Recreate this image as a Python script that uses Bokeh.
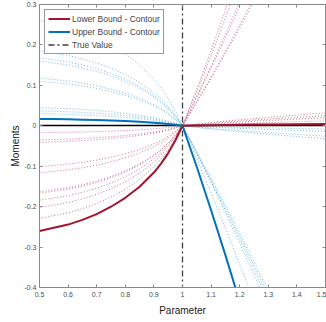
from bokeh.plotting import figure
from bokeh.models import LinearAxis, FixedTicker, Range1d
from bokeh.embed import file_html
from bokeh.resources import INLINE

nan = float("nan")

# ---------------- data ----------------
X_LEFT = [0.5, 0.55, 0.6, 0.65, 0.7, 0.75, 0.8, 0.85, 0.9, 0.925, 0.95, 0.975, 1.0]
X_RIGHT = [1.0, 1.05, 1.1, 1.15, 1.2, 1.25, 1.3, 1.4, 1.5]

LOWER_LEFT = [-0.26, -0.2522, -0.2444, -0.2327, -0.2184, -0.2002, -0.1781, -0.1508,
              -0.1157, -0.0936, -0.0676, -0.0364, 0.0]
LOWER_RIGHT = [0.0, 0.0007, 0.0013, 0.0019, 0.0024, 0.0029, 0.0033, 0.0039, 0.0045]

UPPER_LEFT = [0.017, 0.0165, 0.016, 0.0152, 0.0143, 0.0131, 0.0116, 0.0099,
              0.0076, 0.0061, 0.0044, 0.0024, 0.0]
UPPER_RIGHT = [0.0, -0.102, -0.209, -0.32, -0.435, nan, nan, nan, nan]

LOWER_DOTTED_LEFT = [
    [-0.017, -0.0165, -0.016, -0.0152, -0.0143, -0.0131, -0.0116, -0.0099, -0.0076, -0.0061, -0.0044, -0.0024, 0.0],
    [-0.035, -0.034, -0.0329, -0.0313, -0.0294, -0.027, -0.024, -0.0203, -0.0156, -0.0126, -0.0091, -0.0049, 0.0],
    [-0.041, -0.0398, -0.0385, -0.0367, -0.0344, -0.0316, -0.0281, -0.0238, -0.0182, -0.0148, -0.0107, -0.0057, 0.0],
    [-0.101, -0.098, -0.0949, -0.0904, -0.0848, -0.0778, -0.0692, -0.0586, -0.0449, -0.0364, -0.0263, -0.0141, 0.0],
    [-0.116, -0.1125, -0.109, -0.1038, -0.0974, -0.0893, -0.0795, -0.0673, -0.0516, -0.0418, -0.0302, -0.0162, 0.0],
    [-0.163, -0.1581, -0.1532, -0.1459, -0.1369, -0.1255, -0.1117, -0.0945, -0.0725, -0.0587, -0.0424, -0.0228, 0.0],
    [-0.167, -0.162, -0.157, -0.1495, -0.1403, -0.1286, -0.1144, -0.0969, -0.0743, -0.0601, -0.0434, -0.0234, 0.0],
    [-0.184, -0.1785, -0.173, -0.1647, -0.1546, -0.1417, -0.126, -0.1067, -0.0819, -0.0662, -0.0478, -0.0258, 0.0],
    [-0.202, -0.1959, -0.1899, -0.1808, -0.1697, -0.1555, -0.1384, -0.1172, -0.0899, -0.0727, -0.0525, -0.0283, 0.0],
    [-0.229, -0.2221, -0.2153, -0.205, -0.1924, -0.1763, -0.1569, -0.1328, -0.1019, -0.0824, -0.0595, -0.0321, 0.0],
]
LOWER_DOTTED_RIGHT = [
    [0.0, 0.091, 0.186, 0.286, 0.389, nan, nan, nan, nan],
    [0.0, 0.085, 0.173, 0.266, 0.362, nan, nan, nan, nan],
    [0.0, 0.073, 0.148, 0.226, 0.307, 0.39, nan, nan, nan],
    [0.0, 0.070, 0.143, 0.218, 0.295, 0.376, nan, nan, nan],
    [0.0, 0.059, 0.121, 0.184, 0.249, 0.316, 0.385, nan, nan],
    [0.0, 0.058, 0.117, 0.179, 0.242, 0.307, 0.373, nan, nan],
    [0.0, 0.004, 0.008, 0.0115, 0.0147, 0.0179, 0.0208, 0.0266, 0.032],
    [0.0, 0.0033, 0.0063, 0.009, 0.0115, 0.014, 0.0163, 0.0208, 0.025],
    [0.0, 0.0026, 0.005, 0.0072, 0.0092, 0.0112, 0.013, 0.0166, 0.02],
    [0.0, 0.0016, 0.003, 0.0043, 0.0055, 0.0067, 0.0078, 0.01, 0.012],
]

UPPER_DOTTED_LEFT = [
    [0.03, 0.0291, 0.0282, 0.0269, 0.0252, 0.0231, 0.0206, 0.0174, 0.0134, 0.0108, 0.0078, 0.0042, 0.0],
    [0.037, 0.0359, 0.0348, 0.0331, 0.0311, 0.0285, 0.0253, 0.0215, 0.0165, 0.0133, 0.0096, 0.0052, 0.0],
    [0.045, 0.0437, 0.0423, 0.0403, 0.0378, 0.0347, 0.0308, 0.0261, 0.02, 0.0162, 0.0117, 0.0063, 0.0],
    [0.11, 0.1067, 0.1034, 0.0985, 0.0924, 0.0847, 0.0754, 0.0638, 0.049, 0.0396, 0.0286, 0.0154, 0.0],
    [0.118, 0.1145, 0.1109, 0.1056, 0.0991, 0.0909, 0.0808, 0.0684, 0.0525, 0.0425, 0.0307, 0.0165, 0.0],
    [0.16, 0.1552, 0.1504, 0.1432, 0.1344, 0.1232, 0.1096, 0.0928, 0.0712, 0.0576, 0.0416, 0.0224, 0.0],
    [0.168, 0.163, 0.1579, 0.1504, 0.1411, 0.1294, 0.1151, 0.0974, 0.0748, 0.0605, 0.0437, 0.0235, 0.0],
    [0.185, 0.1795, 0.1739, 0.1656, 0.1554, 0.1425, 0.1267, 0.1073, 0.0823, 0.0666, 0.0481, 0.0259, 0.0],
    [0.26, 0.2522, 0.2444, 0.2327, 0.2184, 0.2002, 0.1781, 0.1508, 0.1157, 0.0936, 0.0676, 0.0364, 0.0],
]
UPPER_DOTTED_RIGHT = [
    [0.0, -0.082, -0.166, -0.253, -0.343, -0.435, nan, nan, nan],
    [0.0, -0.07, -0.141, -0.215, -0.291, -0.369, -0.448, nan, nan],
    [0.0, -0.068, -0.138, -0.209, -0.282, -0.357, -0.434, nan, nan],
    [0.0, -0.066, -0.134, -0.203, -0.274, -0.346, -0.421, nan, nan],
    [0.0, -0.064, -0.130, -0.197, -0.266, -0.337, -0.409, -0.558, nan],
    [0.0, -0.0042, -0.008, -0.0115, -0.0147, -0.0179, -0.0208, -0.0266, -0.032],
    [0.0, -0.0034, -0.0065, -0.0094, -0.012, -0.0146, -0.0169, -0.0216, -0.026],
    [0.0, -0.0018, -0.0035, -0.005, -0.0064, -0.0078, -0.0091, -0.0116, -0.014],
    [0.0, -0.001, -0.002, -0.0029, -0.0037, -0.0045, -0.0052, -0.0066, -0.008],
]

TRUE_PARAM = [1.0]
ZERO_MOMENT = [0.0]

X_TICKS = [0.5, 0.6, 0.7, 0.8, 0.9, 1.0, 1.1, 1.2, 1.3, 1.4, 1.5]
X_TICK_LABELS = ["0.5", "0.6", "0.7", "0.8", "0.9", "1", "1.1", "1.2", "1.3", "1.4", "1.5"]
Y_TICKS = [-0.4, -0.3, -0.2, -0.1, 0.0, 0.1, 0.2, 0.3]
Y_TICK_LABELS = ["-0.4", "-0.3", "-0.2", "-0.1", "0", "0.1", "0.2", "0.3"]

RED = "#A2142F"
BLUE = "#0072BD"
RED_DOT = "#c0506a"
BLUE_DOT = "#55a8da"
FONT = "Liberation Sans"

# ---------------- figure ----------------
p = figure(width=326, height=322, x_range=Range1d(0.5, 1.5), y_range=Range1d(-0.4, 0.3),
           output_backend="svg", toolbar_location=None,
           min_border_left=39, min_border_right=1, min_border_top=4, min_border_bottom=35)
p.xgrid.visible = False
p.ygrid.visible = False
p.outline_line_color = "#8a8a8a"
p.outline_line_width = 1
p.background_fill_color = "white"
p.border_fill_color = "white"

def join(left, right):
    return left + right[1:]

X_ALL = join(X_LEFT, X_RIGHT)

for l, r in zip(LOWER_DOTTED_LEFT, LOWER_DOTTED_RIGHT):
    p.line(X_ALL, join(l, r), line_color=RED_DOT, line_width=1, line_dash="1 2", line_alpha=0.8)
for l, r in zip(UPPER_DOTTED_LEFT, UPPER_DOTTED_RIGHT):
    p.line(X_ALL, join(l, r), line_color=BLUE_DOT, line_width=1, line_dash="1 2", line_alpha=0.8)

p.hspan(y=ZERO_MOMENT, line_color="black", line_width=1.5)

p.line(X_ALL, join(LOWER_LEFT, LOWER_RIGHT), line_color=RED, line_width=2,
       legend_label="Lower Bound - Contour")
p.line(X_ALL, join(UPPER_LEFT, UPPER_RIGHT), line_color=BLUE, line_width=2,
       legend_label="Upper Bound - Contour")
p.vspan(x=TRUE_PARAM, line_color="#404040", line_width=1.3, line_dash="6 3 2 3",
        legend_label="True Value")

# ---------------- axes ----------------
def style_axis(ax, ticks, labels, show_labels=True):
    ax.ticker = FixedTicker(ticks=ticks)
    ax.minor_tick_line_color = None
    ax.major_tick_in = 3
    ax.major_tick_out = 0
    ax.axis_line_color = "#8a8a8a"
    ax.major_tick_line_color = "#8a8a8a"
    if show_labels:
        ax.major_label_overrides = {t: s for t, s in zip(ticks, labels)}
        ax.major_label_text_font = FONT
        ax.major_label_text_font_size = "7px"
        ax.major_label_text_color = "#4d4d4d"
        ax.major_label_standoff = 4
    else:
        ax.major_label_text_color = None
        ax.major_label_text_alpha = 0
        ax.major_label_text_font_size = "1px"
        ax.major_label_standoff = 0

style_axis(p.xaxis[0], X_TICKS, X_TICK_LABELS)
style_axis(p.yaxis[0], Y_TICKS, Y_TICK_LABELS)
p.yaxis[0].major_label_standoff = 3
p.xaxis[0].axis_label = "Parameter"
p.yaxis[0].axis_label = "Moments"
for ax in (p.xaxis[0], p.yaxis[0]):
    ax.axis_label_text_font = FONT
    ax.axis_label_text_font_size = "10px"
    ax.axis_label_text_font_style = "normal"
    ax.axis_label_text_color = "#1a1a1a"
    ax.axis_label_standoff = 5
p.yaxis[0].axis_label_standoff = 0

top = LinearAxis()
style_axis(top, X_TICKS, X_TICK_LABELS, show_labels=False)
p.add_layout(top, "above")
right = LinearAxis()
style_axis(right, Y_TICKS, Y_TICK_LABELS, show_labels=False)
p.add_layout(right, "right")

# ---------------- legend ----------------
lg = p.legend[0]
lg.location = "top_left"
lg.margin = 5
lg.padding = 3
lg.spacing = 2
lg.label_text_font = FONT
lg.label_text_font_size = "8.5px"
lg.label_height = 11
lg.glyph_height = 11
lg.glyph_width = 22
lg.label_standoff = 2
lg.border_line_color = "#333333"
lg.border_line_width = 1
lg.background_fill_alpha = 1

open("out.html", "w").write(file_html(p, INLINE))
